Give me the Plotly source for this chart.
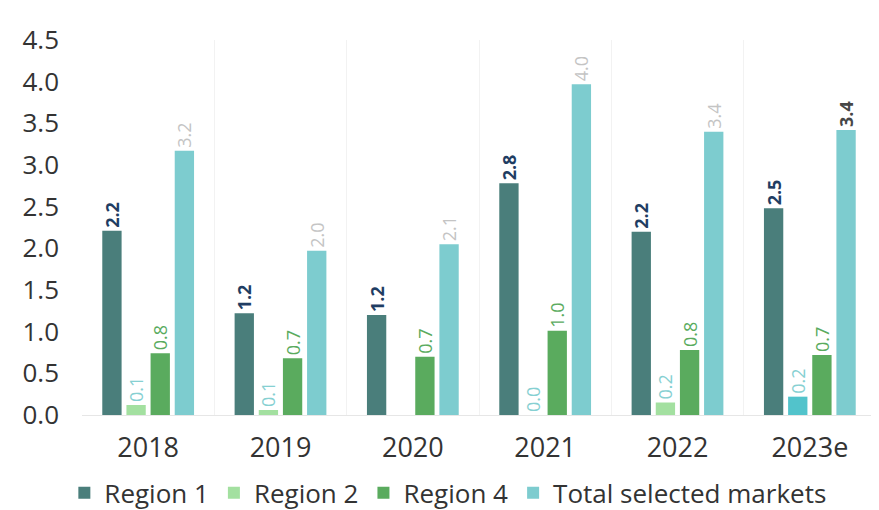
import plotly.graph_objects as go

categories = ["2018", "2019", "2020", "2021", "2022", "2023e"]

region1 = [2.21, 1.22, 1.20, 2.78, 2.20, 2.48]
region2 = [0.12, 0.06, -0.01, 0.0, 0.15, 0.22]
region4 = [0.74, 0.68, 0.70, 1.01, 0.78, 0.72]
total = [3.17, 1.97, 2.05, 3.97, 3.40, 3.42]

labels1 = ["2.2", "1.2", "1.2", "2.8", "2.2", "2.5"]
labels2 = ["0.1", "0.1", "", "0.0", "0.2", "0.2"]
labels4 = ["0.8", "0.7", "0.7", "1.0", "0.8", "0.7"]
labels_total = ["3.2", "2.0", "2.1", "4.0", "3.4", "3.4"]

FONT = "Open Sans"

c_r1 = "#4a7e7b"
c_r2 = "#a3e0a0"
c_r2_last = "#52c3cb"
c_r4 = "#5aab5e"
c_tot = "#7dcccf"

lab_r1 = "#1f3d63"
lab_r2 = "#86d0d2"
lab_r4 = "#5aab5e"
lab_tot = "#c4c4c4"
lab_tot_last = "#474747"

fig = go.Figure()


def add_bar(name, vals, texts, color, tcolor, bold=None):
    if bold is None:
        bold = [False] * len(texts)
    txt = [f"<b>{t}</b>" if b and t else t for t, b in zip(texts, bold)]
    fig.add_trace(go.Bar(
        name=name, x=categories, y=vals,
        marker=dict(color=color, line=dict(width=0)),
        text=txt, textposition="outside", textangle=-90,
        textfont=dict(family=FONT, size=18, color=tcolor),
        constraintext="none", cliponaxis=False,
    ))


add_bar("Region 1", region1, labels1, c_r1, lab_r1, bold=[True] * 6)
add_bar("Region 2", region2, labels2, [c_r2] * 5 + [c_r2_last], lab_r2)
add_bar("Region 4", region4, labels4, c_r4, lab_r4)
add_bar("Total selected markets", total, labels_total, c_tot,
        [lab_tot] * 5 + [lab_tot_last], bold=[False] * 5 + [True])

fig.update_layout(
    width=871, height=502,
    margin=dict(l=74, r=3, t=32, b=95),
    paper_bgcolor="white", plot_bgcolor="white",
    barmode="group", bargap=0.27, bargroupgap=0.2,
    font=dict(family=FONT, color="#333333"),
    xaxis=dict(type="category", range=[-0.5, 5.5],
               tickson="boundaries",
               showgrid=True, gridcolor="#f2f2f2", gridwidth=1,
               showline=False, zeroline=False, ticks="",
               ticklabelstandoff=14,
               tickfont=dict(family=FONT, size=27, color="#333333")),
    yaxis=dict(range=[0, 4.5], dtick=0.5, tickformat=".1f",
               showgrid=False, zeroline=True, zerolinecolor="#e6e6e6",
               zerolinewidth=1, showline=False, ticks="",
               ticklabelstandoff=22,
               tickfont=dict(family=FONT, size=26, color="#333333")),
    legend=dict(orientation="h", xref="container", yref="container",
                x=0.505, xanchor="center", y=0.034, yanchor="middle",
                font=dict(family=FONT, size=26, color="#333333"),
                itemwidth=30, tracegroupgap=0),
    showlegend=True,
)

fig.write_html("out.html")
